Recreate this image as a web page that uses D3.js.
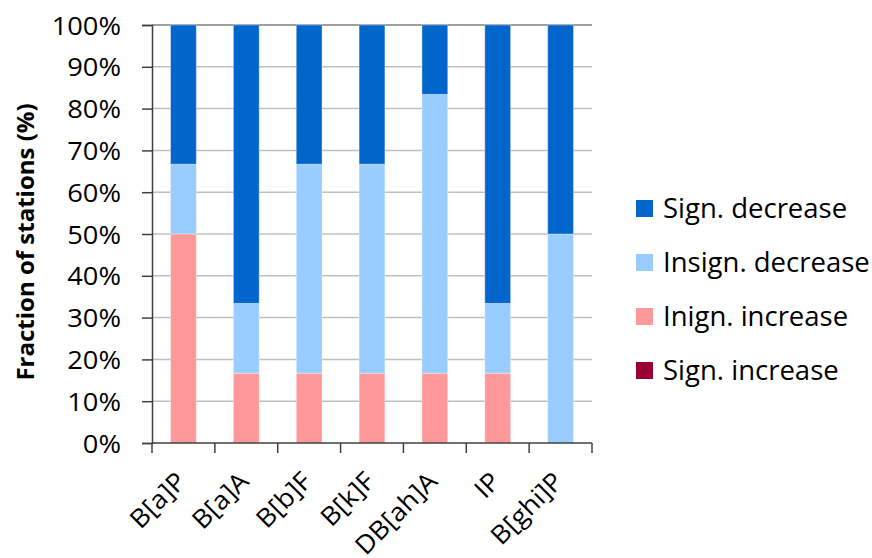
<!DOCTYPE html>
<html><head><meta charset="utf-8">
<script src="https://cdn.jsdelivr.net/npm/d3@7"></script>
<style>body{margin:0;background:#fff}</style>
</head><body>
<svg id="c" width="872" height="558"></svg>
<script>
const categories = ["B[a]P","B[a]A","B[b]F","B[k]F","DB[ah]A","IP","B[ghi]P"];
const signIncrease   = [0, 0, 0, 0, 0, 0, 0];
const insignIncrease = [50, 16.7, 16.7, 16.7, 16.7, 16.7, 0];
const insignDecrease = [16.7, 16.7, 50, 50, 66.7, 16.7, 50];
const signDecrease   = [33.3, 66.6, 33.3, 33.3, 16.6, 66.6, 50];
const seriesNames = ["Sign. increase","Inign. increase","Insign. decrease","Sign. decrease"];
const seriesColors = ["#990033","#FF9999","#99CCFF","#0066CC"];
const yTicks = [0,10,20,30,40,50,60,70,80,90,100];

const svg = d3.select("#c");
const font = "'Open Sans', sans-serif";
const L = 152, R = 592, T = 25, B = 443;
const x = d3.scaleBand().domain(categories).range([L, R]).paddingInner(0.59).paddingOuter(0.295);
const xb = d3.scaleBand().domain(categories).range([L, R]);
const y = d3.scaleLinear().domain([0,100]).range([B, T]);

const rows = categories.map((c,i)=>({cat:c, "Sign. increase":signIncrease[i], "Inign. increase":insignIncrease[i], "Insign. decrease":insignDecrease[i], "Sign. decrease":signDecrease[i]}));
const stack = d3.stack().keys(seriesNames)(rows);

// gridlines
svg.append("g").selectAll("line").data(yTicks.filter(d=>d>0)).join("line")
  .attr("x1", L).attr("x2", R).attr("y1", d=>y(d)).attr("y2", d=>y(d))
  .attr("stroke", d=> d===100 ? "#7f7f7f" : "#bfbfbf").attr("stroke-width", 1.5);

// bars
svg.append("g").selectAll("g").data(stack).join("g")
  .attr("fill", (d,i)=>seriesColors[i])
  .selectAll("rect").data(d=>d.filter(v=>v[1]-v[0]>0)).join("rect")
  .attr("x", d=>x(d.data.cat)).attr("width", x.bandwidth())
  .attr("y", d=>y(d[1])).attr("height", d=>y(d[0])-y(d[1]))
  .attr("stroke", "rgba(255,255,255,0.35)").attr("stroke-width", 1);

// y axis
const yAxis = d3.axisLeft(y).tickValues(yTicks).tickFormat(d=>d+"%").tickSize(10).tickPadding(20);
const gy = svg.append("g").attr("transform", `translate(${L},0)`).call(yAxis);
gy.select(".domain").attr("stroke", "#404040").attr("stroke-width", 1.5);
gy.selectAll(".tick line").attr("stroke", "#404040").attr("stroke-width", 1.5);
gy.selectAll(".tick text").attr("x", 0).attr("transform", "translate(-31,0) scale(1.05,1)")
  .attr("font-family", font).attr("font-size", 26).attr("fill", "#000").attr("dy", "0.35em");

// x axis
const gx = svg.append("g").attr("transform", `translate(0,${B})`);
gx.append("line").attr("x1", L).attr("x2", R).attr("stroke", "#404040").attr("stroke-width", 1.5);
const bounds = categories.map(c=>xb(c)).concat([R]);
gx.selectAll("line.t").data(bounds).join("line").attr("class","t")
  .attr("x1", d=>d).attr("x2", d=>d).attr("y1", 0).attr("y2", 10)
  .attr("stroke", "#404040").attr("stroke-width", 1.5);
gx.selectAll("text").data(categories).join("text")
  .attr("transform", d=>`translate(${xb(d)+xb.bandwidth()/2+4},${40}) rotate(-45) scale(1.06,1)`)
  .attr("text-anchor", "end")
  .attr("font-family", font).attr("font-size", 25.5).attr("fill", "#000")
  .text(d=>d);

// y title
svg.append("text").attr("transform", `translate(34,${(T+B)/2+8}) rotate(-90)`)
  .attr("text-anchor", "middle").attr("font-family", font).attr("font-weight", "bold")
  .attr("font-size", 24).attr("fill", "#000").text("Fraction of stations (%)");

// legend
const legOrder = [3,2,1,0];
const lg = svg.append("g");
legOrder.forEach((si,k)=>{
  const base = 218 + k*54;
  lg.append("rect").attr("x", 636).attr("y", base-18).attr("width", 17).attr("height", 17).attr("fill", seriesColors[si]);
  lg.append("text").attr("x", 663).attr("y", base)
    .attr("font-family", font).attr("font-size", 27.5).attr("fill", "#000").text(seriesNames[si]);
});
</script>
</body></html>
